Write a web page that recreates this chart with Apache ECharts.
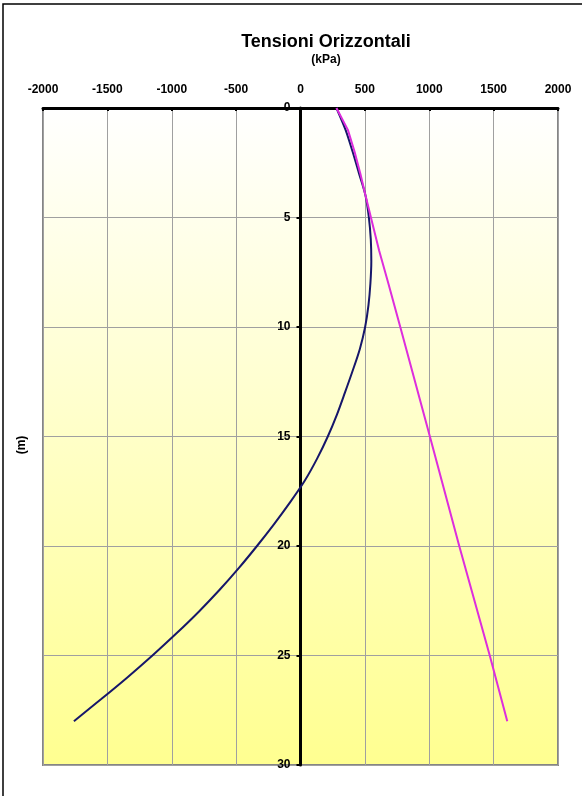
<!DOCTYPE html>
<html>
<head>
    <meta charset="utf-8"/>
    <title>Tensioni Orizzontali</title>
    <script src="https://cdn.jsdelivr.net/npm/echarts@6/dist/echarts.min.js"></script>
    <style>
        html, body { margin: 0; padding: 0; background: #fff; }
        #chart { width: 582px; height: 796px; }
    </style>
</head>
<body>
<div id="chart"></div>
<script>
    // profondita' (m) e tensioni (kPa)
    var depthBlue = [0, 1, 2, 3, 4, 5, 6, 7, 8, 9, 10, 11, 12, 13, 14, 15, 16, 17, 18, 19, 20, 21, 22, 23, 24, 25, 26, 27, 28];
    var sigmaBlue = [279, 350, 405, 455, 505, 531, 546, 550, 543, 528, 502, 461, 405, 345, 283, 212, 130, 35, -80, -205, -338, -478, -628, -790, -965, -1150, -1345, -1550, -1760];

    var depthPink = [0, 1, 2, 3, 4, 5, 6.5, 8, 10, 15, 20, 25, 28];
    var sigmaPink = [279, 368, 420, 465, 505, 547, 610, 682, 775, 1005, 1233, 1470, 1606];

    var xTicks = [-2000, -1500, -1000, -500, 0, 500, 1000, 1500, 2000];
    var yTicks = [0, 5, 10, 15, 20, 25, 30];

    function pairs(xs, ys) {
        var out = [];
        for (var i = 0; i < xs.length; i++) {
            out.push([xs[i], ys[i]]);
        }
        return out;
    }

    var gridLeft = 43, gridRight = 24;
    var plotW = 582 - gridLeft - gridRight;
    // l'asse verticale sta sullo zero dell'asse x
    var zeroOffset = plotW * (0 - xTicks[0]) / (xTicks[xTicks.length - 1] - xTicks[0]);

    var labelFont = {
        color: '#000',
        fontFamily: '"Liberation Sans", Arial, sans-serif',
        fontWeight: 'bold',
        fontSize: 12
    };

    var myChart = echarts.init(document.getElementById('chart'), null, {renderer: 'canvas'});
    var option = {
        animation: false,
        title: {
            text: 'Tensioni Orizzontali',
            subtext: '(kPa)',
            left: 321,
            top: 28,
            textAlign: 'center',
            itemGap: 3,
            textStyle: {
                color: '#000',
                fontFamily: '"Liberation Sans", Arial, sans-serif',
                fontWeight: 'bold',
                fontSize: 18
            },
            subtextStyle: {
                color: '#000',
                fontFamily: '"Liberation Sans", Arial, sans-serif',
                fontWeight: 'bold',
                fontSize: 12
            }
        },
        grid: {
            left: gridLeft,
            right: gridRight,
            top: 108,
            bottom: 31,
            show: true,
            borderColor: '#858585',
            borderWidth: 2,
            backgroundColor: {
                type: 'linear', x: 0, y: 0, x2: 0, y2: 1,
                colorStops: [
                    {offset: 0, color: '#ffffff'},
                    {offset: 1, color: '#ffff90'}
                ]
            }
        },
        graphic: [
            {
                type: 'rect',
                shape: {x: 3, y: 4, width: 700, height: 900},
                style: {fill: 'none', stroke: '#000', lineWidth: 1.5},
                silent: true
            },
            {
                type: 'text',
                x: 22,
                y: 445,
                rotation: Math.PI / 2,
                style: {
                    text: '(m)',
                    fill: '#000',
                    font: 'bold 12px "Liberation Sans", Arial, sans-serif',
                    textAlign: 'center',
                    textVerticalAlign: 'middle'
                }
            }
        ],
        xAxis: {
            type: 'value',
            position: 'top',
            min: xTicks[0],
            max: xTicks[xTicks.length - 1],
            interval: 500,
            axisLine: {show: true, onZero: false, lineStyle: {color: '#000', width: 3}},
            axisTick: {show: true, inside: true, length: 3, lineStyle: {color: '#000', width: 2}},
            axisLabel: Object.assign({margin: 12, formatter: function (v) { return String(v); }}, labelFont),
            splitLine: {show: true, lineStyle: {color: '#a0a0a0', width: 1}}
        },
        yAxis: {
            type: 'value',
            inverse: true,
            position: 'left',
            offset: -zeroOffset,
            min: yTicks[0],
            max: yTicks[yTicks.length - 1],
            interval: 5,
            axisLine: {show: true, onZero: false, lineStyle: {color: '#000', width: 3}},
            axisTick: {show: true, length: 4, lineStyle: {color: '#000', width: 2}},
            axisLabel: Object.assign({margin: 10}, labelFont),
            splitLine: {show: true, lineStyle: {color: '#a0a0a0', width: 1}}
        },
        series: [
            {
                type: 'line',
                data: pairs(sigmaBlue, depthBlue),
                showSymbol: false,
                smooth: 0.3,
                lineStyle: {color: '#16166a', width: 2},
                z: 3
            },
            {
                type: 'line',
                data: pairs(sigmaPink, depthPink),
                showSymbol: false,
                lineStyle: {color: '#dd2ddd', width: 2},
                z: 4
            }
        ]
    };
    myChart.setOption(option);
</script>
</body>
</html>
